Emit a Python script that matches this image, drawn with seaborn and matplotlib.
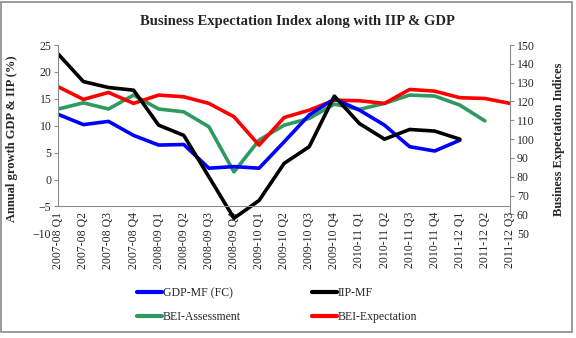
import numpy as np
import pandas as pd
import matplotlib
matplotlib.use("Agg")
import matplotlib.pyplot as plt
from matplotlib.patches import Rectangle
from matplotlib.lines import Line2D
import seaborn as sns

categories = ["2007-08 Q1", "2007-08 Q2", "2007-08 Q3", "2007-08 Q4",
              "2008-09 Q1", "2008-09 Q2", "2008-09 Q3", "2008-09 Q4",
              "2009-10 Q1", "2009-10 Q2", "2009-10 Q3", "2009-10 Q4",
              "2010-11 Q1", "2010-11 Q2", "2010-11 Q3", "2010-11 Q4",
              "2011-12 Q1", "2011-12 Q2", "2011-12 Q3"]

gdp = [12.1, 10.2, 10.8, 8.2, 6.4, 6.5, 2.1, 2.4, 2.1, 7.0,
       12.0, 15.0, 12.9, 10.1, 6.1, 5.3, 7.3, np.nan, np.nan]
iip = [23.3, 18.2, 17.1, 16.6, 10.1, 8.2, 0.5, -7.2, -3.9, 3.0,
       6.1, 15.5, 10.4, 7.5, 9.3, 9.0, 7.5, np.nan, np.nan]
bei_assessment = [116.0, 119.3, 116.0, 123.4, 116.0, 114.5, 106.6, 82.6, 99.5, 107.4,
                  111.0, 118.6, 115.8, 119.0, 123.4, 122.9, 118.1, 109.7, np.nan]
bei_expectation = [127.8, 121.1, 124.8, 119.0, 123.4, 122.5, 119.0, 111.9, 96.8, 111.5,
                   115.4, 120.7, 120.4, 119.0, 126.4, 125.5, 122.0, 121.6, 119.0]

left_names = ["GDP-MF (FC)", "IIP-MF"]
right_names = ["BEI-Assessment", "BEI-Expectation"]
colors = {"GDP-MF (FC)": "#0000FF", "IIP-MF": "#000000",
          "BEI-Assessment": "#2E9A62", "BEI-Expectation": "#FF0000"}

pos = np.arange(len(categories))
df_left = pd.DataFrame({"pos": np.concatenate([pos, pos]),
                        "value": gdp + iip,
                        "series": [left_names[0]] * len(pos) + [left_names[1]] * len(pos)}).dropna()
df_right = pd.DataFrame({"pos": np.concatenate([pos, pos]),
                         "value": bei_assessment + bei_expectation,
                         "series": [right_names[0]] * len(pos) + [right_names[1]] * len(pos)}).dropna()

sns.set_style("white")
plt.rcParams["font.family"] = ["Liberation Serif", "DejaVu Serif"]

W, H = 576, 338
fig = plt.figure(figsize=(W / 100, H / 100), dpi=100)
ax = fig.add_axes([58.3 / W, 1 - 233.3 / H, (510 - 58.3) / W, (233.3 - 45) / H])
ax2 = ax.twinx()

sns.lineplot(data=df_right, x="pos", y="value", hue="series", palette=colors,
             ax=ax2, linewidth=2.6, legend=False, estimator=None, sort=True)
sns.lineplot(data=df_left, x="pos", y="value", hue="series", palette=colors,
             ax=ax, linewidth=2.6, legend=False, estimator=None, sort=True)
ax.set_zorder(ax2.get_zorder() + 1)
ax.patch.set_visible(False)

gray = "#8C8C8C"
# spine layout first (set_position resets ticks)
ax.spines["top"].set_visible(False)
ax2.spines["top"].set_visible(False)
ax2.spines["left"].set_visible(False)
ax2.spines["bottom"].set_visible(False)
ax.spines["right"].set_visible(False)
ax.spines["bottom"].set_position(("data", -5))
ax.spines["left"].set_bounds(-5, 25)
ax2.spines["right"].set_bounds(60, 150)
for sp in [ax.spines["bottom"], ax.spines["left"], ax2.spines["right"]]:
    sp.set_color(gray)
    sp.set_linewidth(0.8)

ax.set_xlim(0, len(categories) - 1)
ax.set_ylim(-10, 25)
ax2.set_ylim(50, 150)
ax.set_yticks(np.arange(-10, 26, 5))
ax2.set_yticks(np.arange(50, 151, 10))
ax.set_xticks(pos)
ax.set_xticklabels(categories, fontsize=8.5)
ax.tick_params(axis="x", length=4, direction="inout", color=gray, pad=2,
               labelrotation=90, labelsize=8.5)
ax.tick_params(axis="y", labelsize=8.5, length=3, direction="out", color=gray, pad=2)
ax2.tick_params(axis="y", labelsize=8.5, length=3, direction="out", color=gray, pad=2)
ax.yaxis.get_major_ticks()[0].tick1line.set_visible(False)
ax2.yaxis.get_major_ticks()[0].tick2line.set_visible(False)

ax.set_xlabel("")
ax.set_ylabel("Annual growth GDP & IIP (%)", fontsize=9, fontweight="bold")
ax.yaxis.set_label_coords(-40 / (510 - 58.3), 0.5)
ax2.set_ylabel("Business Expectation Indices", fontsize=9, fontweight="bold",
               rotation=90)
ax2.yaxis.set_label_coords(1 + 43 / (510 - 58.3), 0.5)

fig.text(297 / W, 1 - 22 / H, "Business Expectation Index along with IIP & GDP",
         ha="center", va="center", fontsize=10.5, fontweight="bold")

order = ["GDP-MF (FC)", "BEI-Assessment", "IIP-MF", "BEI-Expectation"]
handles = [Line2D([], [], color=colors[n], linewidth=3) for n in order]
fig.legend(handles, order, loc="upper left", bbox_to_anchor=(137 / W, 1 - 287 / H),
           ncol=2, frameon=False, fontsize=8.5, handlelength=2.1, handletextpad=0.1,
           columnspacing=6.0, labelspacing=1.0, borderpad=0, borderaxespad=0)

fig.patches.append(Rectangle((1 / W, 1 - 332 / H), 570.5 / W, 330 / H,
                             transform=fig.transFigure, fill=False,
                             edgecolor="#8A8A8A", linewidth=1.2))

fig.savefig("out.png", dpi=100)
